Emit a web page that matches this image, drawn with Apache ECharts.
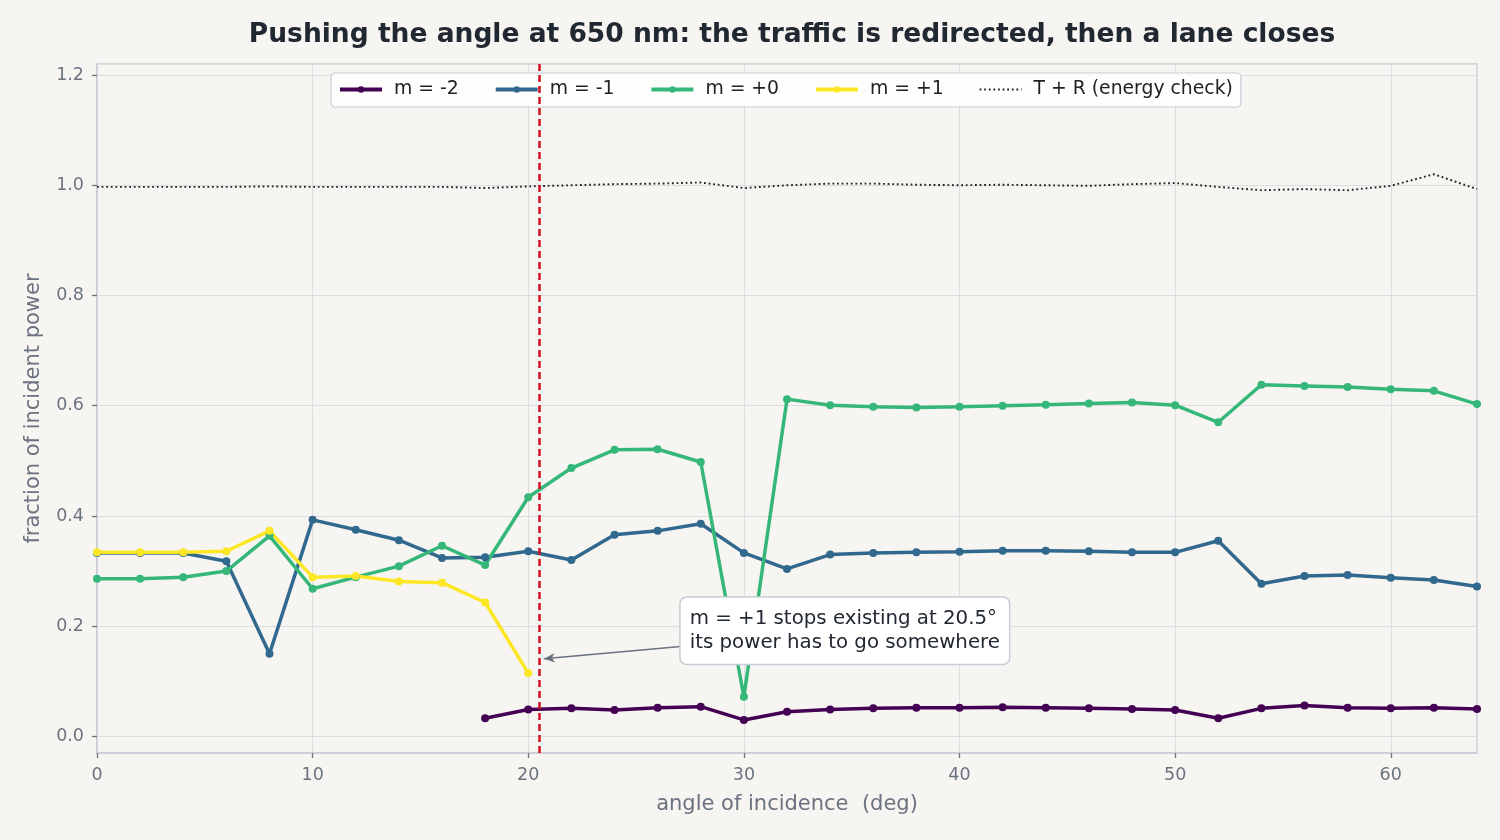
<!DOCTYPE html>
<html>
<head>
<meta charset="utf-8">
<title>Pushing the angle at 650 nm</title>
<script src="https://cdn.jsdelivr.net/npm/echarts@6/dist/echarts.min.js"></script>
<style>
  html, body { margin: 0; padding: 0; background: #f6f5f1; }
  #chart { width: 1500px; height: 840px; }
</style>
</head>
<body>
<div id="chart"></div>
<script>
// angle of incidence, deg
var angles = [0, 2, 4, 6, 8, 10, 12, 14, 16, 18, 20, 22, 24, 26, 28, 30, 32,
              34, 36, 38, 40, 42, 44, 46, 48, 50, 52, 54, 56, 58, 60, 62, 64];

// diffraction efficiencies per order (null = order does not exist)
var mMinus2 = [null, null, null, null, null, null, null, null, null, 0.033, 0.049,
               0.051, 0.048, 0.052, 0.054, 0.030, 0.045, 0.049, 0.051, 0.052, 0.052,
               0.053, 0.052, 0.051, 0.050, 0.048, 0.033, 0.051, 0.056, 0.052, 0.051, 0.052, 0.050];
var mMinus1 = [0.333, 0.333, 0.333, 0.318, 0.150, 0.393, 0.375, 0.356, 0.324, 0.325, 0.336,
               0.320, 0.366, 0.373, 0.386, 0.333, 0.304, 0.330, 0.333, 0.334, 0.335,
               0.337, 0.337, 0.336, 0.334, 0.334, 0.355, 0.277, 0.291, 0.293, 0.288, 0.284, 0.272];
var mZero   = [0.286, 0.286, 0.289, 0.300, 0.364, 0.268, 0.289, 0.309, 0.346, 0.311, 0.434,
               0.487, 0.520, 0.521, 0.498, 0.072, 0.612, 0.601, 0.598, 0.597, 0.598,
               0.600, 0.602, 0.604, 0.606, 0.601, 0.570, 0.638, 0.636, 0.634, 0.630, 0.627, 0.603];
var mPlus1  = [0.334, 0.334, 0.334, 0.336, 0.373, 0.289, 0.291, 0.281, 0.279, 0.243, 0.115,
               null, null, null, null, null, null, null, null, null, null,
               null, null, null, null, null, null, null, null, null, null, null, null];
var energyCheck = [0.997, 0.997, 0.997, 0.997, 0.998, 0.997, 0.997, 0.997, 0.997, 0.995, 0.998,
                   1.000, 1.002, 1.003, 1.005, 0.995, 1.000, 1.003, 1.003, 1.001, 1.000,
                   1.001, 1.000, 0.999, 1.002, 1.004, 0.997, 0.991, 0.993, 0.991, 0.999, 1.020, 0.993];

var seriesNames = ['m = -2', 'm = -1', 'm = +0', 'm = +1', 'T + R (energy check)'];
var seriesColors = ['#440154', '#31688e', '#35b779', '#fde725', '#222222'];

// where the +1 order goes evanescent
var cutoffAngle = 20.5;
var noteText = 'm = +1 stops existing at 20.5°\nits power has to go somewhere';
var notePos = [27.07, 0.192];
var arrowFrom = [27.07, 0.163];
var arrowTo = [20.72, 0.141];

function pairs(ys) {
    return angles.map(function (x, i) { return [x, ys[i]]; });
}

function orderSeries(idx, ys) {
    return {
        name: seriesNames[idx],
        type: 'line',
        data: pairs(ys),
        connectNulls: false,
        symbol: 'circle',
        symbolSize: 8,
        showSymbol: true,
        color: seriesColors[idx],
        lineStyle: { width: 3.5, color: seriesColors[idx] },
        itemStyle: { color: seriesColors[idx] },
        z: 2
    };
}

var chart = echarts.init(document.getElementById('chart'), null, { renderer: 'canvas' });
var font = 'DejaVu Sans';
var grey = '#6b7280';

var legendData = seriesNames.slice(0, 4).map(function (n) {
    return { name: n, lineStyle: { width: 4 } };
});
legendData.push({ name: seriesNames[4], itemStyle: { opacity: 0 }, lineStyle: { width: 1.8 } });

var option = {
    backgroundColor: '#f6f5f1',
    animation: false,
    title: {
        text: 'Pushing the angle at 650 nm: the traffic is redirected, then a lane closes',
        left: 787, top: 17, textAlign: 'center',
        textStyle: { fontFamily: font, fontSize: 26.5, fontWeight: 'bold', color: '#222831' }
    },
    legend: {
        data: legendData,
        left: 331, top: 73,
        padding: [7, 8, 8, 7],
        itemWidth: 42, itemHeight: 8, itemGap: 35,
        backgroundColor: 'rgba(255,255,255,0.85)',
        borderColor: '#c8ccd6', borderWidth: 1.2, borderRadius: 4,
        textStyle: { fontFamily: font, fontSize: 18.8, color: '#222', padding: [2, 0, 0, 7] }
    },
    grid: {
        left: 97, right: 23, top: 64, bottom: 87,
        show: true, borderColor: '#c8ccd6', borderWidth: 1.5, backgroundColor: 'transparent'
    },
    xAxis: {
        type: 'value', min: 0, max: 64, interval: 10,
        name: 'angle of incidence  (deg)', nameLocation: 'middle', nameGap: 41,
        nameTextStyle: { fontFamily: font, fontSize: 21, color: grey },
        axisLine: { show: true, onZero: false, lineStyle: { color: '#c8ccd6', width: 1.5 } },
        axisTick: { show: true, length: 5, lineStyle: { color: grey, width: 1.3 } },
        axisLabel: { fontFamily: font, fontSize: 17.5, color: grey, margin: 13, showMaxLabel: false },
        splitLine: { show: true, lineStyle: { color: '#dcdde3', width: 1 } }
    },
    yAxis: {
        type: 'value', min: -0.03, max: 1.22, splitNumber: 6,
        name: 'fraction of incident power', nameLocation: 'middle', nameGap: 53,
        nameTextStyle: { fontFamily: font, fontSize: 21, color: grey },
        axisLine: { show: true, onZero: false, lineStyle: { color: '#c8ccd6', width: 1.5 } },
        axisTick: { show: true, length: 5, lineStyle: { color: grey, width: 1.3 } },
        axisLabel: {
            fontFamily: font, fontSize: 17.5, color: grey, margin: 13,
            showMinLabel: false, showMaxLabel: false,
            formatter: function (v) { return v.toFixed(1); }
        },
        splitLine: { show: true, lineStyle: { color: '#dcdde3', width: 1 } }
    },
    series: [
        orderSeries(0, mMinus2),
        orderSeries(1, mMinus1),
        orderSeries(2, mZero),
        orderSeries(3, mPlus1),
        {
            name: seriesNames[4],
            type: 'line',
            data: pairs(energyCheck),
            showSymbol: false,
            symbol: 'none',
            color: seriesColors[4],
            lineStyle: { width: 1.9, type: [1.8, 2.8], color: seriesColors[4] },
            z: 2
        },
        {
            // cutoff marker
            name: 'cutoff',
            type: 'line',
            data: [],
            z: 6,
            markLine: {
                silent: true,
                symbol: ['none', 'none'],
                label: { show: false },
                lineStyle: { color: '#d0101e', width: 2.5, type: [7, 4] },
                data: [{ xAxis: cutoffAngle }]
            }
        },
        {
            // annotation arrow and note
            name: 'note',
            type: 'line',
            data: [],
            z: 7,
            markLine: {
                silent: true,
                symbol: ['none', 'arrow'],
                symbolSize: [7, 11],
                label: { show: false },
                lineStyle: { color: grey, width: 1.5, type: 'solid' },
                data: [[{ coord: arrowFrom }, { coord: arrowTo }]]
            },
            markPoint: {
                silent: true,
                symbol: 'rect',
                symbolSize: [0, 0],
                data: [{
                    coord: notePos,
                    label: {
                        show: true,
                        position: 'right',
                        distance: 0,
                        formatter: noteText,
                        fontFamily: font, fontSize: 19.8, lineHeight: 24, color: '#222831',
                        backgroundColor: '#ffffff',
                        borderColor: '#c8ccd6', borderWidth: 1.5, borderRadius: 6,
                        padding: [9, 9, 9, 9]
                    }
                }]
            }
        }
    ]
};

chart.setOption(option);
</script>
</body>
</html>
